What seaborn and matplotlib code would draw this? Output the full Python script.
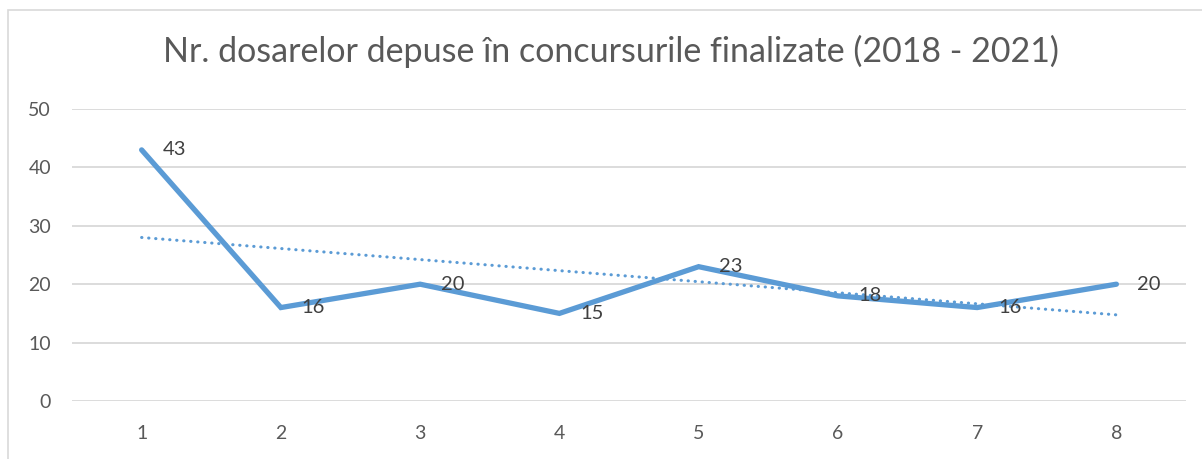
import numpy
import pandas
import seaborn
import matplotlib.pyplot as pyplt
from matplotlib.patches import Rectangle

# values
positions = [1, 2, 3, 4, 5, 6, 7, 8]
dosare = [43, 16, 20, 15, 23, 18, 16, 20]
title = 'Nr. dosarelor depuse în concursurile finalizate (2018 - 2021)'

LINE_COLOR = '#5B9BD5'

seaborn.set_theme(style='white')
pyplt.rcParams['font.family'] = ['Lato', 'DejaVu Sans']

data = pandas.DataFrame({'pos': positions, 'dosare': dosare})

# linear trendline like the Excel one
slope, intercept = numpy.polyfit(positions, dosare, 1)
data['trend'] = slope * data['pos'] + intercept

fig = pyplt.figure(figsize=(12.02, 4.59), dpi=100)
ax = fig.add_axes([0.0599, 0.1264, 0.9268, 0.6361])

seaborn.lineplot(x='pos', y='trend', data=data, ax=ax, color=LINE_COLOR,
                 linewidth=2.2, linestyle=(0, (0.1, 2.2)),
                 dash_capstyle='round', solid_capstyle='round')
seaborn.lineplot(x='pos', y='dosare', data=data, ax=ax, color=LINE_COLOR,
                 linewidth=3.8, solid_capstyle='round', solid_joinstyle='miter')

for x, y in zip(positions, dosare):
    ax.annotate(str(y), (x, y), xytext=(15, 0), textcoords='offset points',
                ha='left', va='center', fontsize=14.5, color='#404040')

ax.set_xlim(0.5, 8.5)
ax.set_ylim(0, 50)
ax.set_xticks(positions)
ax.set_yticks(range(0, 51, 10))
ax.tick_params(axis='both', length=0, labelsize=14, labelcolor='#595959')
ax.tick_params(axis='x', pad=17)
ax.tick_params(axis='y', pad=15)
ax.yaxis.grid(True, color='#D9D9D9', linewidth=1.3)
ax.set_axisbelow(True)
ax.set_xlabel('')
ax.set_ylabel('')
seaborn.despine(ax=ax, left=True, bottom=True)

fig.text(0.508, 0.888, title, ha='center', va='center', fontsize=24.5,
         color='#595959')

# chart border (cut by the image at right and bottom)
fig.add_artist(Rectangle((8 / 1202, -0.1), 1.2, 1.1 - 10 / 459,
                         transform=fig.transFigure, fill=False,
                         edgecolor='#D9D9D9', linewidth=1.2))

fig.savefig('out.png', dpi=100)
